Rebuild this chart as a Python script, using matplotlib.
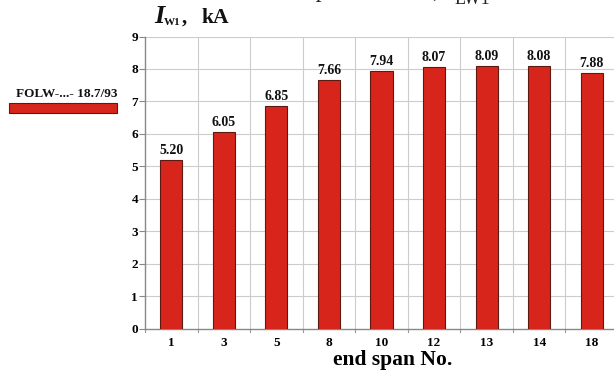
import matplotlib
matplotlib.use("Agg")
import matplotlib.pyplot as plt
from matplotlib.patches import Rectangle

# Data
spans = ["1", "3", "5", "8", "10", "12", "13", "14", "18"]
currents = [5.20, 6.05, 6.85, 7.66, 7.94, 8.07, 8.09, 8.08, 7.88]
series_name = "FOLW-...- 18.7/93"
y_ticks = [0, 1, 2, 3, 4, 5, 6, 7, 8, 9]

plt.rcParams["font.family"] = "Liberation Serif"

W, H = 614, 373
fig = plt.figure(figsize=(W / 100, H / 100), dpi=100)
fig.patch.set_facecolor("white")


def px(x, y):
    """Pixel position (from top-left) to figure fraction."""
    return x / W, 1 - y / H


# axes box in pixels (left, top, right, bottom)
L, T, R, B = 145, 36.5, 618, 328.5
ax = fig.add_axes([L / W, 1 - B / H, (R - L) / W, (B - T) / H])

bar_color = "#d8251c"
edge_color = "#5a1a12"
x = list(range(len(spans)))
ax.bar(x, currents, width=0.42, color=bar_color, edgecolor=edge_color,
       linewidth=0.8, zorder=3)

for xi, v in zip(x, currents):
    ax.text(xi, v + 0.09, f"{v:.2f}", ha="center", va="bottom",
            fontsize=10, fontweight="bold", color="#111111")

ax.set_xlim(-0.5, len(spans) - 0.5)
ax.set_ylim(0, 9)
ax.set_yticks(y_ticks)
ax.set_yticklabels([str(t) for t in y_ticks], fontsize=9.5, fontweight="bold")
ax.set_xticks(x)
ax.set_xticklabels(spans, fontsize=9.5, fontweight="bold")
ax.tick_params(axis="x", length=0, pad=6)
ax.tick_params(axis="y", length=4, width=0.8, color="#888888", pad=1)

# grid: horizontal at integer values, vertical at category boundaries
for t in y_ticks[1:]:
    ax.axhline(t, color="#cccccc", linewidth=0.8, zorder=1)
for b in range(1, len(spans) + 1):
    ax.axvline(b - 0.5, color="#cccccc", linewidth=0.8, zorder=1)
for b in range(0, len(spans) + 1):
    ax.plot([b - 0.5, b - 0.5], [0, -0.12], color="#999999", lw=0.8,
            clip_on=False, zorder=2)

for s in ["top", "right"]:
    ax.spines[s].set_visible(False)
for s in ["left", "bottom"]:
    ax.spines[s].set_color("#888888")
    ax.spines[s].set_linewidth(1.0)

ax.set_xlabel("end span No.", fontsize=15.5, fontweight="bold")
ax.xaxis.label.set_verticalalignment("center")
ax.xaxis.set_label_coords(*px(393, 360), transform=fig.transFigure)

# axis title above the y axis: I_W1, kA
fig.text(*px(154, 23), "I", fontsize=19, fontweight="bold", style="italic",
         ha="left", va="baseline", color="#111111")
fig.text(*px(164, 25), "W1", fontsize=8, fontweight="bold",
         ha="left", va="baseline", color="#111111")
fig.text(*px(182, 23), ",", fontsize=15, fontweight="bold",
         ha="left", va="baseline", color="#111111")
fig.text(*px(201, 23), "kA", fontsize=15.5, fontweight="bold",
         ha="left", va="baseline", color="#111111")

# heading line above the plot (mostly outside the canvas)
fig.text(*px(453, -3.5), "The peak current, I", fontsize=17,
         ha="right", va="baseline", color="#222222")
fig.text(*px(455, 4.5), "LW1", fontsize=13,
         ha="left", va="baseline", color="#222222")

# legend
fig.text(*px(16, 94), series_name, fontsize=9.5, fontweight="bold",
         ha="left", va="center", color="#111111")
fig.patches.append(Rectangle(px(9, 113), 108 / W, 10 / H,
                             transform=fig.transFigure, facecolor=bar_color,
                             edgecolor=edge_color, linewidth=0.8))

fig.savefig("out.png", dpi=100)
